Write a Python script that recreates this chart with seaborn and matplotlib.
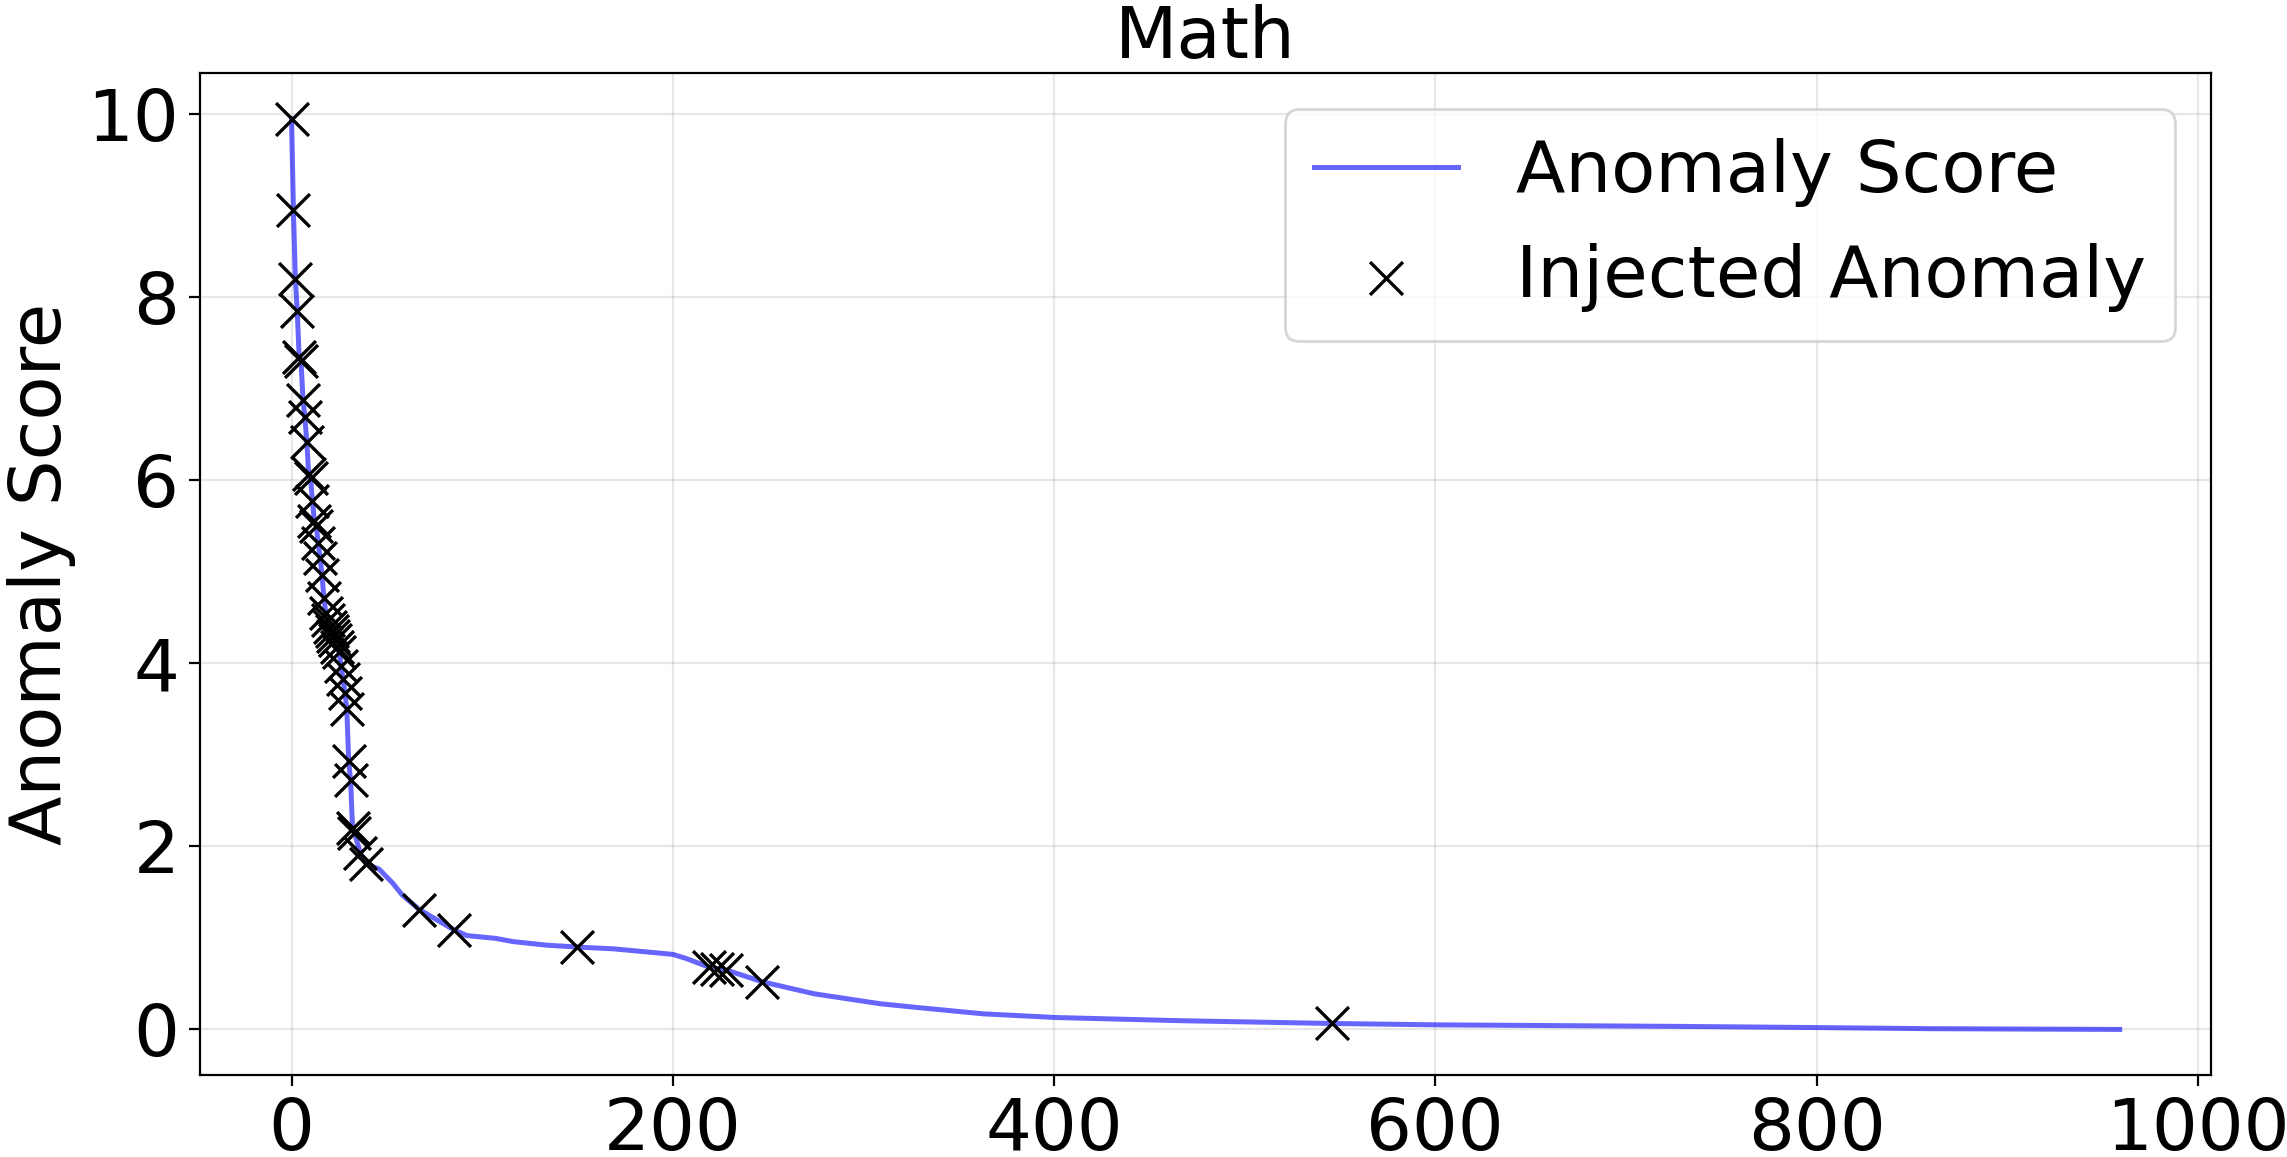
import numpy as np
import pandas as pd
import seaborn as sns
import matplotlib
matplotlib.use("Agg")
import matplotlib.pyplot as plt

# sorted anomaly score curve (rank -> score)
score_rank = [0, 1, 2, 3, 4, 5, 6, 7, 8, 9, 10, 11, 12, 13, 14, 15, 16, 17,
              18, 19, 20, 21, 22, 23, 24, 25, 26, 27, 28, 29, 30, 31, 32, 33,
              36, 39, 46, 53, 58, 67, 85, 92, 107, 116, 134, 150, 169, 200,
              207, 219, 223, 228, 247, 274, 293, 309, 328, 363, 401, 467, 546,
              601, 729, 802, 860, 959]
score_value = [9.95, 8.95, 8.2, 7.85, 7.35, 7.3, 6.88, 6.69, 6.42, 6.07, 6.02,
               5.77, 5.55, 5.5, 5.31, 5.15, 4.96, 4.71, 4.55, 4.47, 4.4, 4.35,
               4.3, 4.25, 4.18, 4.12, 3.97, 3.83, 3.68, 3.5, 2.93, 2.72, 2.2,
               2.15, 1.93, 1.81, 1.75, 1.6, 1.47, 1.31, 1.09, 1.025, 0.995,
               0.96, 0.92, 0.9, 0.88, 0.82, 0.775, 0.68, 0.665, 0.65, 0.52,
               0.39, 0.33, 0.28, 0.24, 0.17, 0.13, 0.095, 0.065, 0.05, 0.033,
               0.02, 0.008, 0.0]

# injected anomalies (rank, score)
anomaly_rank = [0, 1, 2, 3, 4, 5, 6, 7, 8, 9, 10, 11, 12, 13, 14, 15, 16, 17,
                18, 19, 20, 21, 22, 23, 24, 25, 26, 27, 28, 29, 30, 31, 32, 33,
                36, 39, 67, 85, 150, 219, 223, 228, 247, 546]
anomaly_value = [9.95, 8.95, 8.2, 7.85, 7.35, 7.3, 6.88, 6.69, 6.42, 6.07, 6.02,
                 5.77, 5.55, 5.5, 5.31, 5.15, 4.96, 4.71, 4.55, 4.47, 4.4, 4.35,
                 4.3, 4.25, 4.18, 4.12, 3.97, 3.83, 3.68, 3.5, 2.93, 2.72, 2.2,
                 2.15, 1.93, 1.81, 1.31, 1.09, 0.9, 0.68, 0.665, 0.65, 0.52,
                 0.065]

plt.rcParams['font.size'] = 26

fig, ax = plt.subplots(figsize=(11.435, 5.785), dpi=200)

sns.lineplot(x=score_rank, y=score_value, color="blue", alpha=0.6,
             linewidth=1.8, label="Anomaly Score", ax=ax)
sns.scatterplot(x=anomaly_rank, y=anomaly_value, marker="x", color="black",
                s=140, linewidth=1.2, label="Injected Anomaly", ax=ax, zorder=3)

ax.set_title("Math", fontsize=26, pad=4)
ax.set_ylabel("Anomaly Score")
ax.set_xticks([0, 200, 400, 600, 800, 1000])
ax.set_yticks([0, 2, 4, 6, 8, 10])
ax.tick_params(length=4)
ax.grid(True, alpha=0.3)
ax.legend(loc="upper right")

fig.subplots_adjust(left=0.0875, right=0.9668, top=0.9369, bottom=0.0709)
fig.savefig("out.png", dpi=200)
